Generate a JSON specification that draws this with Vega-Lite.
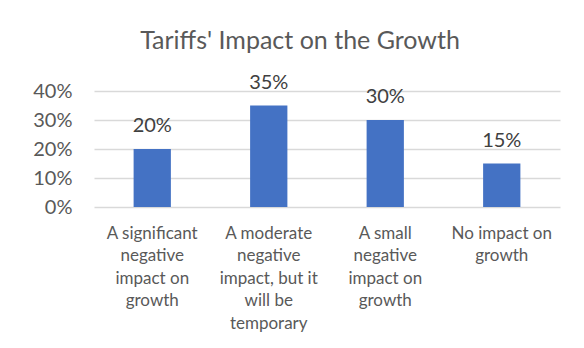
{
  "$schema": "https://vega.github.io/schema/vega-lite/v6.json",
  "width": 466,
  "height": 116,
  "autosize": "none",
  "padding": {"left": 94, "top": 91, "right": 24, "bottom": 141},
  "background": "white",
  "title": {
    "text": "Tariffs' Impact on the Growth",
    "font": "Lato",
    "fontSize": 25,
    "fontWeight": "normal",
    "color": "#595959",
    "anchor": "middle",
    "offset": 19,
    "dx": -27
  },
  "data": {
    "values": [
      {"category": "A significant|negative|impact on|growth", "value": 0.20},
      {"category": "A moderate|negative|impact, but it|will be|temporary", "value": 0.35},
      {"category": "A small|negative|impact on|growth", "value": 0.30},
      {"category": "No impact on|growth", "value": 0.15}
    ]
  },
  "config": {
    "view": {"stroke": null},
    "font": "Lato"
  },
  "encoding": {
    "x": {
      "field": "category",
      "type": "nominal",
      "sort": null,
      "scale": {"paddingInner": 0.68, "paddingOuter": 0.34},
      "axis": {
        "title": null,
        "labelAngle": 0,
        "labelExpr": "split(datum.label, '|')",
        "labelFontSize": 17,
        "labelColor": "#595959",
        "labelLineHeight": 22.5,
        "labelPadding": 18,
        "labelBaseline": "top",
        "labelLimit": 200,
        "domain": false,
        "ticks": false
      }
    },
    "y": {
      "field": "value",
      "type": "quantitative",
      "scale": {"domain": [0, 0.4]},
      "axis": {
        "title": null,
        "format": ".0%",
        "values": [0, 0.1, 0.2, 0.3, 0.4],
        "labelFontSize": 20,
        "labelColor": "#595959",
        "labelPadding": 22,
        "domain": false,
        "ticks": false,
        "gridColor": "#d9d9d9",
        "gridWidth": 1.5
      }
    }
  },
  "layer": [
    {"mark": {"type": "bar", "color": "#4472C4"}},
    {
      "mark": {"type": "text", "baseline": "alphabetic", "dy": -17, "fontSize": 20, "color": "#404040"},
      "encoding": {"text": {"field": "value", "type": "quantitative", "format": ".0%"}}
    }
  ]
}
